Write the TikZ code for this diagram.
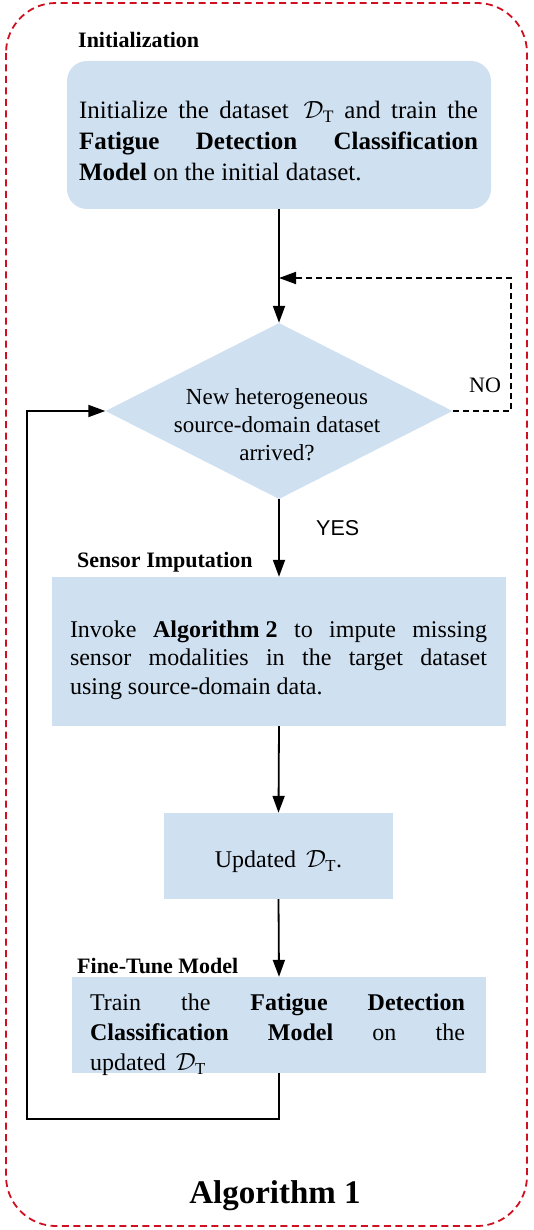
\documentclass[tikz,border=0pt]{standalone}
\usepackage{fontspec}
\setmainfont{Liberation Serif}
\newfontfamily\yesfont{Liberation Sans}
\usetikzlibrary{arrows.meta,shapes.geometric}
\definecolor{boxblue}{RGB}{207,224,241}
\definecolor{frame}{RGB}{208,16,32}
\tikzset{
  blue box/.style={fill=boxblue, draw=none, inner sep=0pt},
  box text/.style={inner sep=0pt, align=justify, execute at begin node={\tolerance=10000\relax}},
  sect label/.style={anchor=base west, inner sep=0pt, font=\fontsize{22}{26}\selectfont\bfseries},
  flow/.style={line width=1.8pt, -{Triangle[length=17pt,width=12pt]}},
}
\begin{document}
\begin{tikzpicture}[x=1pt,y=-1pt]
\useasboundingbox (0,0) rectangle (534,1230);
% outer frame
\draw[frame, line width=1.8pt, dash pattern=on 7pt off 4.5pt, rounded corners=50pt] (6,3) rectangle (527,1226);

% labels
\node[sect label] (lblinit) at (78,48) {Initialization};
\node[sect label] (lblsens) at (77,567) {Sensor Imputation};
\node[sect label] (lblfine) at (77,973) {Fine-Tune Model};

% top box
\node[blue box, rounded corners=20pt, minimum width=424pt, minimum height=148pt] (init) at (279,135) {};
\node[box text, text width=399pt, font=\fontsize{25}{31}\selectfont] (initT) at (278.5,141)
 {Initialize the dataset \,$\mathcal{D}_{\mathrm{T}}$ and train the\linebreak
  \textbf{Fatigue Detection Classification}\linebreak
  \textbf{Model} on the initial dataset.};

% diamond
\node[diamond, fill=boxblue, draw=none, inner sep=0pt, minimum width=347pt, minimum height=176pt] (dec) at (279,411) {};
\node[align=center, inner sep=0pt, font=\fontsize{23}{28}\selectfont] (dectext) at (277,425)
 {New heterogeneous\\source-domain dataset\\arrived?};

% sensor box
\node[blue box, minimum width=454pt, minimum height=149pt] (sens) at (279,651.5) {};
\node[box text, text width=417pt, font=\fontsize{24}{28.5}\selectfont] (sensT) at (278.5,660)
 {Invoke \textbf{Algorithm\hspace{0.25em}2} to impute missing\linebreak
  sensor modalities in the target dataset\linebreak
  using source-domain data.};

% updated box
\node[blue box, minimum width=229pt, minimum height=86pt] (upd) at (278.5,856) {};
\node[inner sep=0pt, font=\fontsize{24}{29}\selectfont] (updT) at (278.5,862)
 {Updated \,$\mathcal{D}_{\mathrm{T}}$.};

% fine-tune box
\node[blue box, minimum width=414pt, minimum height=96pt] (fine) at (279,1025) {};
\node[box text, text width=375pt, font=\fontsize{24}{30}\selectfont] (fineT) at (277.5,1035)
 {Train the \textbf{Fatigue Detection}\linebreak
  \textbf{Classification Model} on the\linebreak
  updated \,$\mathcal{D}_{\mathrm{T}}$};

% labels on arrows
\node[anchor=base west, inner sep=0pt, font=\fontsize{22}{26}\selectfont] (nolbl) at (469,392) {NO};
\node[anchor=base west, inner sep=0pt, font=\yesfont\fontsize{21.5}{26}\selectfont] (yeslbl) at (316,535) {YES};

% coordinates
\coordinate (merge) at (279,278);
\coordinate (noR) at (511,411);
\coordinate (noT) at (511,278);
\coordinate (loopA) at (279,1119);
\coordinate (loopB) at (27,1119);
\coordinate (loopC) at (27,411);

% connectors
\draw[flow] (init.south) -- (dec.north);
\draw[flow, dash pattern=on 6pt off 4pt] (dec.east) -- (noR) -- (noT) -- (merge);
\draw[flow] (dec.south) -- (sens.north);
\draw[flow] (sens.south) -- (upd.north);
\draw[flow] (upd.south) -- (fine.north);
\draw[flow] (fine.south) -- (loopA) -- (loopB) -- (loopC) -- (dec.west);

% title
\node[anchor=base, inner sep=0pt, font=\fontsize{33}{38}\selectfont\bfseries] (title) at (275,1203) {Algorithm 1};
\end{tikzpicture}
\end{document}
